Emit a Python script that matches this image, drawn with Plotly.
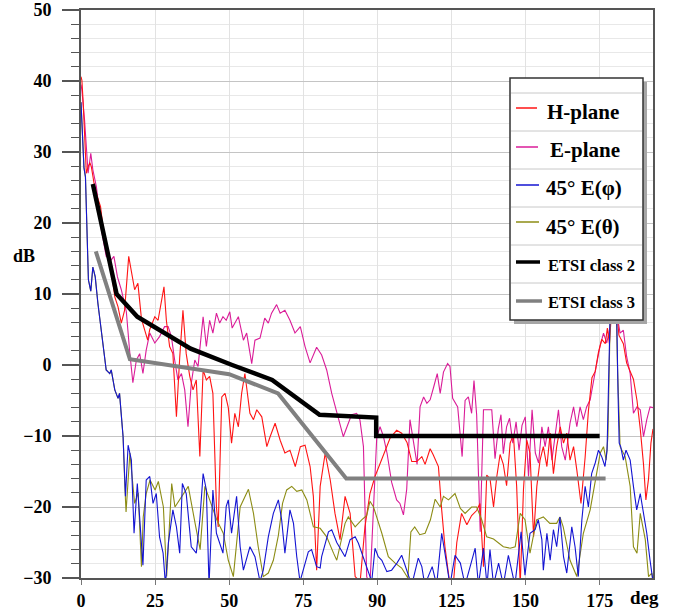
import plotly.graph_objects as go

# ---------------- data ----------------
h_x = [0, 0.3, 0.7, 1.2, 1.8, 2.4, 3.0, 3.5, 4.4, 5.5, 6.6, 7.4, 8.9, 10.2, 11.4, 12.5, 13.6, 14.7, 16.1, 17.0,
       18.1, 19.2, 20.4, 21.5, 22.5, 23.2, 24.9, 26.0, 27.1, 28.0, 28.8, 29.9, 31.0, 32.2, 33.3, 34.4, 35.5, 36.7,
       37.8, 38.9, 40.1, 41.2, 42.3, 43.4, 44.5, 45.7, 46.3, 47.5, 48.6, 49.7, 50.8, 51.9, 53.1, 54.2, 55.3, 57.0,
       58.2, 59.3, 61.0, 62.7, 63.8, 65.5, 67.2, 68.8, 70.5, 72.3, 74.0, 75.6, 77.3, 78.4, 79.5, 80.7, 82.4, 84.1,
       85.7, 87.4, 89.1, 90.8, 92.5, 94.2, 95.8, 97.5, 99.2, 100.9, 102.6, 104.3, 106.5, 108.2, 110.0, 111.6, 113.3,
       115.0, 116.1, 117.8, 118.8, 120.6, 121.7, 122.8, 124.5, 125.6, 126.8, 128.4, 130.2, 131.8, 133.5, 134.6,
       135.8, 136.9, 138.0, 139.2, 140.3, 141.4, 142.5, 143.6, 144.8, 145.9, 147.0, 148.2, 149.3, 150.4, 151.5,
       152.7, 153.8, 154.9, 156.0, 157.2, 158.3, 159.4, 160.5, 161.7, 162.8, 163.9, 165.0, 166.2, 167.3, 168.7,
       170.1, 171.2, 172.4, 173.5, 174.6, 175.7, 176.9, 177.6, 178.3, 179.0, 180.0, 180.8, 181.5, 183.0, 184.1,
       185.3, 186.4, 187.6, 188.7, 189.8, 190.6, 191.5, 192.3, 193.0]
h_y = [40.6, 40.1, 37.3, 32.2, 27.0, 27.9, 28.5, 27.9, 25.6, 23.7, 22.3, 19.5, 16.2, 13.4, 9.6, 8.2, 5.9, 7.7, 15.3, 13.4,
       10.6, 11.5, 6.5, 4.9, 3.5, 5.0, 6.8, 6.3, 8.7, 11.0, 6.3, 2.6, 1.6, -7.3, 1.0, 7.7, 1.6, -1.6,
       -3.5, -2.1, -12.9, -0.7, -2.1, -1.6, -4.0, -20.0, -22.8, -4.5, -4.0, -6.0, -11.0, -6.8, -8.7, -4.0, -1.2, -6.8,
       -7.7, -6.3, -7.3, -11.5, -10.1, -8.2, -10.6, -12.4, -12.0, -14.3, -11.5, -11.3, -14.3, -18.5, -28.9, -17.1, -12.4, -16.2,
       -20.9, -24.6, -18.5, -20.9, -29.8, -30.5, -22.8, -18.1, -15.7, -13.8, -12.0, -10.3, -9.2, -9.6, -10.9, -13.6, -13.6,
       -12.9, -14.0, -11.8, -12.6, -14.3, -20.4, -25.6, -31.0, -31.0, -25.0, -20.9, -22.5, -21.2, -20.5, -19.5,
       -28.4, -15.5, -16.0, -20.0, -15.7, -12.6, -14.0, -17.0, -11.0, -9.8, -17.1, -31.0, -17.5, -10.6, -12.4,
       -24.2, -17.1, -13.4, -11.5, -14.3, -9.6, -15.3, -11.5, -8.7, -11.0, -9.6, -13.4, -11.5, -14.8, -19.5,
       -13.0, -6.5, -1.8, -0.9, 1.8, 3.6, 3.0, 5.2, 3.0, 7.5, 6.0, 7.5, 4.2, 3.0, 0.3,
       -1.0, -2.0, -5.0, -9.0, -14.0, -19.0, -16.0, -11.0, -9.0]

e_x = [0, 0.3, 1.2, 2.4, 3.3, 4.0, 5.2, 6.9, 8.5, 10.2, 11.1, 12.3, 13.6, 15.3, 16.4, 17.5, 18.7, 19.8, 20.9, 22.0,
       23.2, 24.9, 26.5, 28.2, 29.4, 30.5, 31.6, 32.7, 33.9, 35.0, 36.1, 37.2, 38.4, 39.5, 41.2, 42.3, 43.4, 44.5,
       45.7, 46.8, 47.9, 49.0, 50.2, 51.0, 53.1, 54.8, 55.9, 57.6, 58.7, 60.4, 62.0, 63.2, 64.3, 66.0, 67.2, 68.8,
       70.5, 72.2, 74.0, 75.6, 77.3, 79.5, 81.2, 82.9, 84.6, 86.8, 88.5, 90.2, 91.3, 93.0, 94.1, 95.3, 96.4, 97.5,
       98.6, 99.8, 100.9, 102.0, 103.3, 104.8, 106.5, 107.6, 108.8, 109.9, 111.0, 112.3, 113.4, 114.4, 115.6,
       116.7, 117.8, 119.0, 120.2, 121.2, 122.3, 123.7, 124.5, 125.4, 127.1, 128.6, 129.6, 130.7, 131.8, 132.6,
       133.5, 134.7, 135.8, 137.5, 138.6, 139.7, 140.8, 141.7, 142.5, 143.6, 144.6, 145.7, 146.8, 147.8, 148.8,
       149.9, 151.0, 152.2, 153.3, 154.4, 155.5, 156.6, 157.7, 158.9, 160.0, 161.1, 162.2, 163.4, 165.0, 166.2,
       167.3, 168.4, 169.5, 170.6, 171.8, 172.9, 174.0, 175.1, 176.3, 177.4, 178.5, 179.3, 180.5, 181.9, 183.0,
       184.1, 185.3, 186.4, 187.6, 188.7, 189.8, 190.9, 192.0, 193.0]
e_y = [39.5, 38.7, 34.5, 27.0, 29.8, 27.5, 25.1, 19.0, 15.3, 14.8, 15.3, 12.4, 10.6, 7.5, 2.0, -2.5, 0.7, 1.6, -1.2, 2.1,
       4.5, 3.1, 4.0, 5.4, 5.4, 4.0, 0.7, -2.1, -1.2, -3.5, -8.7, -2.6, 0.7, -0.2, 6.8, 2.6, 6.3, 4.5,
       7.3, 5.9, 6.8, 6.3, 7.5, 5.2, 6.8, 3.5, 4.5, 0.2, 3.5, 3.8, 6.6, 5.9, 7.3, 8.5, 7.3, 7.7,
       6.3, 4.5, 5.4, 2.6, 0.3, 2.5, 1.4, -0.7, -4.0, -7.3, -10.1, -8.2, -7.0, -6.8, -7.7, -11.5, -29.8, -31.0,
       -20.9, -10.1, -8.7, -10.0, -12.5, -16.5, -19.0, -19.5, -21.1, -17.5, -7.7, -11.0, -14.0, -5.9, -4.5,
       -5.4, -4.9, -3.1, -1.2, -4.0, -1.0, 0.2, -0.2, -4.7, -5.9, -12.9, -5.0, -4.5, -6.8, -2.2,
       -7.0, -23.5, -6.3, -6.3, -6.3, -13.2, -9.0, -7.0, -12.5, -8.7, -7.5, -11.0, -8.0, -12.0, -8.5,
       -7.3, -15.7, -6.3, -12.4, -13.8, -8.7, -11.5, -8.7, -13.4, -10.1, -6.3, -11.5, -13.4, -8.2, -5.9,
       -8.7, -5.9, -7.7, -5.9, -4.9, -2.1, 0.2, 2.6, 4.5, 3.1, 5.4, 8.0, 8.0, 4.5, 4.9,
       1.2, -1.2, -6.8, -5.9, -6.3, -10.1, -7.7, -5.9, -6.0]

phi_x = [0, 0.5, 1.0, 1.5, 2.0, 2.5, 3.0, 3.3, 4.0, 4.8, 5.7, 6.9, 7.8, 8.5, 9.7, 10.2, 11.4, 12.5, 13.0, 14.2,
         15.0, 15.9, 17.0, 17.9, 19.0, 19.8, 20.9, 22.0, 23.2, 24.3, 25.4, 26.5, 27.7, 28.5, 29.5, 31.0, 32.2,
         33.3, 34.2, 35.5, 37.2, 38.9, 40.1, 41.2, 42.3, 43.2, 44.5, 45.7, 46.8, 47.9, 49.0, 49.7, 50.8, 52.5,
         53.7, 54.8, 57.0, 58.7, 60.4, 61.5, 63.2, 64.9, 66.6, 67.7, 68.8, 70.5, 71.7, 72.8, 73.9, 76.7, 77.8,
         79.5, 80.7, 81.2, 83.5, 84.6, 86.3, 89.1, 90.8, 92.5, 93.6, 95.8, 98.1, 99.2, 100.3, 101.5, 103.2, 104.8,
         106.6, 108.2, 110.0, 111.6, 113.8, 115.0, 116.0, 118.5, 120.0, 121.7, 122.8, 124.5, 126.2, 128.0, 129.6,
         133.0, 134.1, 135.8, 137.0, 138.0, 139.2, 140.9, 142.5, 144.2, 146.4, 148.5, 149.8, 151.5, 153.2, 154.3,
         155.5, 156.0, 157.2, 158.3, 159.4, 160.5, 161.6, 162.8, 163.9, 165.6, 166.7, 167.8, 169.0, 170.1, 171.2,
         172.3, 173.5, 174.6, 175.7, 176.8, 177.5, 178.0, 178.4, 178.8, 180.4, 180.8, 181.2, 181.6, 182.1, 183.0,
         183.9, 185.3, 186.4, 187.5, 188.7, 189.8, 190.9, 192.0, 193.0]
phi_y = [37.0, 32.0, 27.8, 26.5, 17.0, 12.0, 11.0, 10.4, 13.8, 12.4, 8.7, 4.5, 2.1, -0.7, -1.2, -0.7, -3.5, -4.7, -4.0, -10.1,
         -18.5, -11.3, -13.4, -23.7, -16.7, -21.8, -28.2, -16.2, -15.7, -19.5, -18.1, -24.2, -26.5, -31.0, -25.0, -20.4, -22.8,
         -26.5, -16.7, -18.1, -25.6, -26.5, -21.8, -15.3, -17.6, -31.0, -17.6, -23.7, -25.1, -26.5, -19.9, -19.0, -23.7, -18.5,
         -25.6, -28.9, -25.6, -27.0, -30.5, -28.9, -24.2, -20.9, -19.0, -21.8, -26.5, -20.4, -22.3, -27.0, -30.5, -26.3, -26.0,
         -28.4, -28.6, -27.0, -23.5, -23.2, -25.0, -27.0, -24.6, -24.2, -25.1, -27.9, -30.5, -25.8, -27.0, -27.5, -29.1, -28.9,
         -27.9, -26.8, -28.9, -31.0, -27.2, -28.4, -31.0, -28.4, -31.0, -23.7, -26.5, -31.0, -26.8, -27.9, -31.0,
         -25.8, -31.0, -25.8, -31.0, -26.0, -31.0, -27.9, -31.0, -26.8, -31.0, -23.5, -29.6, -23.7, -23.2, -21.8,
         -24.6, -28.9, -23.7, -27.5, -23.2, -25.6, -21.4, -27.0, -29.3, -22.8, -25.6, -29.8, -21.8, -17.1, -20.0,
         -15.3, -13.8, -12.0, -12.9, -14.3, -12.0, -4.0, 6.0, 12.0, 12.0, 6.0, -4.0, -11.0, -11.5, -13.4,
         -12.0, -13.4, -17.1, -20.4, -18.1, -20.9, -23.7, -27.5, -30.5]

theta_x = [0, 0.5, 1.0, 1.5, 2.0, 2.5, 3.0, 3.3, 4.0, 4.8, 5.7, 6.9, 7.8, 8.5, 9.7, 10.2, 11.4, 12.5, 13.0, 14.2,
           14.8, 15.2, 16.5, 18.1, 19.3, 20.4, 21.0, 22.0, 23.3, 25.0, 26.1, 27.8, 28.9, 30.6, 31.7, 34.0, 36.2,
           38.5, 40.2, 41.8, 43.5, 45.8, 48.0, 49.7, 51.4, 53.7, 56.5, 58.2, 59.8, 61.5, 63.2, 64.9, 66.6, 68.0,
           69.4, 71.1, 72.8, 74.5, 76.2, 78.4, 80.7, 82.9, 85.2, 86.3, 89.1, 90.2, 92.5, 94.7, 96.4, 97.5, 98.7,
           100.3, 101.5, 103.7, 106.0, 108.2, 110.3, 111.3, 112.6, 114.3, 116.1, 117.9, 119.5, 121.2, 122.3, 124.0,
           126.2, 128.0, 129.6, 131.8, 133.5, 135.2, 136.9, 139.2, 140.8, 142.5, 144.8, 146.5, 148.2, 149.8, 151.5,
           153.7, 156.0, 158.2, 160.5, 161.6, 162.7, 165.0, 167.3, 169.5, 171.8, 173.5, 175.2, 176.3, 177.2, 177.8,
           178.3, 178.8, 180.4, 181.0, 181.9, 183.6, 185.3, 186.4, 187.6, 188.7, 190.4, 191.5, 192.6, 193.0]
theta_y = [37.0, 32.0, 27.8, 26.5, 17.0, 12.0, 11.0, 10.4, 13.8, 12.4, 8.7, 4.5, 2.1, -0.7, -1.2, -0.7, -3.5, -4.7, -4.0, -10.1,
           -17.1, -20.7, -12.4, -19.5, -18.0, -28.4, -21.4, -18.1, -16.2, -17.6, -16.4, -20.0, -29.8, -16.7, -20.0, -18.5, -17.1,
           -22.3, -26.0, -17.1, -19.0, -21.8, -23.7, -27.5, -29.8, -20.0, -17.5, -20.9, -25.6, -29.8, -29.3, -27.5, -24.0, -19.5,
           -17.6, -17.1, -17.8, -17.6, -19.0, -22.8, -23.0, -24.2, -26.5, -27.5, -22.3, -21.4, -22.8, -21.8, -21.2, -19.2, -20.0,
           -22.0, -23.7, -27.0, -27.9, -28.6, -30.0, -23.5, -22.8, -23.9, -23.7, -21.8, -18.9, -20.0, -18.5, -19.0,
           -18.1, -20.2, -20.9, -20.0, -20.0, -21.8, -24.2, -24.5, -25.1, -25.6, -25.8, -25.6, -20.9, -21.8, -26.5,
           -21.8, -21.4, -22.3, -22.3, -21.4, -22.8, -27.5, -29.8, -23.7, -20.4, -16.2, -12.4, -11.5, -13.4, -10.0,
           -1.0, 12.0, 12.0, 0.0, -11.5, -12.9, -17.1, -25.6, -26.5, -20.9, -24.6, -29.8, -29.3, -30.5]

etsi2_x = [4, 12, 19, 37, 51, 64.5, 80.5, 88, 99.6, 99.6, 175]
etsi2_y = [25.5, 10, 6.8, 2.3, 0, -2.1, -7.0, -7.1, -7.4, -10, -10]
etsi3_x = [5, 16.5, 50, 66.5, 89.5, 177]
etsi3_y = [16, 0.8, -1.3, -4.0, -16, -16]

x_tickvals = [0, 25, 50, 75, 100, 125, 150, 175]
x_ticktext = ["0", "25", "50", "75", "90", "125", "150", "175"]

legend_labels = ["H-plane", "E-plane", "45° E(φ)", "45° E(θ)", "ETSI class 2", "ETSI class 3"]

# ---------------- styling ----------------
RED = "#FF1414"
MAG = "#DA1C98"
BLUE = "#1414D2"
OLIVE = "#8C8C14"
BLACK = "#000000"
GREY = "#808080"
FONT = "Liberation Serif"

fig = go.Figure()
fig.add_trace(go.Scatter(x=e_x, y=e_y, mode="lines", line=dict(color=MAG, width=1.1), showlegend=False))
fig.add_trace(go.Scatter(x=h_x, y=h_y, mode="lines", line=dict(color=RED, width=1.1), showlegend=False))
fig.add_trace(go.Scatter(x=theta_x, y=theta_y, mode="lines", line=dict(color=OLIVE, width=1.1), showlegend=False))
fig.add_trace(go.Scatter(x=phi_x, y=phi_y, mode="lines", line=dict(color=BLUE, width=1.1), showlegend=False))
fig.add_trace(go.Scatter(x=etsi3_x, y=etsi3_y, mode="lines", line=dict(color=GREY, width=4), showlegend=False))
fig.add_trace(go.Scatter(x=etsi2_x, y=etsi2_y, mode="lines", line=dict(color=BLACK, width=4.5), showlegend=False))

W, H = 683, 612
L, R, T, B = 81, 653, 10, 578


def px(v):
    return (v - L) / (R - L)


def py(v):
    return (B - v) / (B - T)


shapes = []
# legend shadow + box
shapes.append(dict(type="rect", xref="paper", yref="paper", x0=px(514), x1=px(647), y0=py(324), y1=py(82),
                   fillcolor="#A6A6A6", line=dict(width=0), layer="above"))
shapes.append(dict(type="rect", xref="paper", yref="paper", x0=px(510), x1=px(643), y0=py(320), y1=py(78),
                   fillcolor="white", line=dict(color="#333333", width=1.5), layer="above"))
for sy in [93, 131, 169, 207, 245, 283]:
    shapes.append(dict(type="line", xref="paper", yref="paper", x0=px(511), x1=px(642), y0=py(sy), y1=py(sy),
                       line=dict(color="#C8C8C8", width=1), layer="above"))

sample_colors = [RED, MAG, BLUE, OLIVE, BLACK, GREY]
sample_widths = [1.5, 1.5, 1.5, 1.5, 3.5, 3.5]
sample_y = [108, 147, 185, 222, 262, 301]
sample_x1 = [537, 538, 539, 539, 540, 542]
text_y = [112, 150, 188, 227, 265, 302]
text_x = [545, 548, 544, 544, 546, 546]
text_size = [21, 21, 21, 21, 16.5, 16.5]
annotations = []
for c, w, sy, sx1, lab, tx, ty, ts in zip(sample_colors, sample_widths, sample_y, sample_x1,
                                          legend_labels, text_x, text_y, text_size):
    shapes.append(dict(type="line", xref="paper", yref="paper", x0=px(516), x1=px(sx1), y0=py(sy), y1=py(sy),
                       line=dict(color=c, width=w), layer="above"))
    annotations.append(dict(xref="paper", yref="paper", x=px(tx), y=py(ty), xanchor="left", yanchor="middle",
                            text=lab, showarrow=False,
                            font=dict(family=FONT, size=ts, color="black", weight="bold")))

annotations.append(dict(xref="paper", yref="paper", x=px(24), y=py(256), xanchor="center", yanchor="middle",
                        text="dB", showarrow=False, font=dict(family=FONT, size=18, color="black", weight="bold")))
annotations.append(dict(xref="paper", yref="paper", x=px(644), y=py(597), xanchor="center", yanchor="middle",
                        text="deg", showarrow=False, font=dict(family=FONT, size=19, color="black", weight="bold")))

tickfont = dict(family=FONT, size=18, color="black", weight="bold")

fig.update_layout(
    width=W, height=H,
    margin=dict(l=L, r=W - R, t=T, b=H - B, autoexpand=False),
    paper_bgcolor="white", plot_bgcolor="white",
    showlegend=False,
    shapes=shapes, annotations=annotations,
    xaxis=dict(range=[0, 193], tickmode="array", tickvals=x_tickvals, ticktext=x_ticktext,
               showgrid=True, gridcolor="#E2E2E2", gridwidth=1, zeroline=False,
               showline=True, linecolor="#555555", linewidth=2, mirror=True, automargin=False,
               ticks="outside", ticklen=5, tickwidth=1, tickcolor="#777777",
               ticklabelstandoff=0, tickfont=tickfont),
    yaxis=dict(range=[-30, 50], tick0=-30, dtick=10,
               showgrid=True, gridcolor="#C4C4C4", gridwidth=1, zeroline=False,
               showline=True, linecolor="#555555", linewidth=2, mirror=True, automargin=False,
               ticks="outside", ticklen=17, tickwidth=1.5, tickcolor="#555555",
               ticklabelstandoff=7, tickfont=tickfont,
               minor=dict(dtick=2, ticks="outside", ticklen=8, tickwidth=1, tickcolor="#555555",
                          showgrid=True, gridcolor="#E8E8E8")),
)

fig.write_html("out.html", config={"displayModeBar": False},
               post_script="document.body.style.margin='0';document.body.style.overflow='hidden';")
